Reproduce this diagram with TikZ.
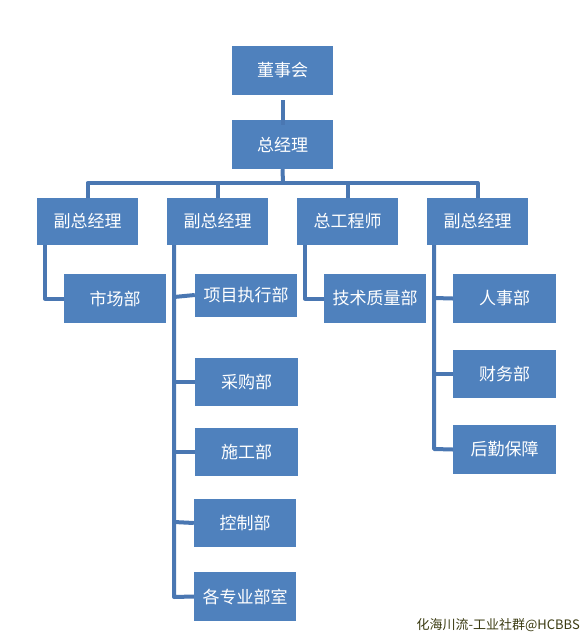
\documentclass[tikz,border=0pt]{standalone}
\usepackage{fontspec}
\setmainfont{Noto Sans CJK SC}
\newfontfamily\cjk{Noto Sans CJK SC}
\definecolor{boxblue}{HTML}{4F81BD}
\definecolor{lineblue}{HTML}{4A77B2}
\definecolor{wmark}{HTML}{3A3A10}
\begin{document}
\begin{tikzpicture}[x=1pt,y=-1pt,
  orgbox/.style={fill=boxblue, draw=none, text=white, font=\cjk\fontsize{17}{20}\selectfont, inner sep=0pt},
  link/.style={draw=lineblue, line width=4pt, line join=round}]
\useasboundingbox (0,0) rectangle (587,640);
% boxes
\node[orgbox, minimum width=101pt, minimum height=49pt] (dsh) at (282.5,70.5) {董事会};
\node[orgbox, minimum width=101pt, minimum height=49pt] (zjl) at (282.5,144.5) {总经理};
\node[orgbox, minimum width=101pt, minimum height=47pt] (f1) at (87.5,221.5) {副总经理};
\node[orgbox, minimum width=101pt, minimum height=47pt] (f2) at (217.5,221.5) {副总经理};
\node[orgbox, minimum width=101pt, minimum height=47pt] (zg) at (347.5,221.5) {总工程师};
\node[orgbox, minimum width=101pt, minimum height=47pt] (f4) at (477.5,221.5) {副总经理};
\node[orgbox, minimum width=102pt, minimum height=49pt] (scb) at (115,298.5) {市场部};
\node[orgbox, minimum width=102pt, minimum height=43pt] (xm) at (246,295) {项目执行部};
\node[orgbox, minimum width=103pt, minimum height=48pt] (cg) at (246.5,382) {采购部};
\node[orgbox, minimum width=103pt, minimum height=48pt] (sg) at (246.5,452) {施工部};
\node[orgbox, minimum width=102pt, minimum height=48pt] (kz) at (245,523) {控制部};
\node[orgbox, minimum width=102pt, minimum height=49pt] (gz) at (245,596.5) {各专业部室};
\node[orgbox, minimum width=102pt, minimum height=49pt] (js) at (375,298.5) {技术质量部};
\node[orgbox, minimum width=103pt, minimum height=49pt] (rs) at (504.5,298.5) {人事部};
\node[orgbox, minimum width=103pt, minimum height=48pt] (cw) at (504.5,374) {财务部};
\node[orgbox, minimum width=103pt, minimum height=49pt] (hq) at (504.5,449.5) {后勤保障};
% connectors
\coordinate (bus) at (283,183);
\draw[link] (dsh.south) ++(0,5) -- ([yshift=-5pt]zjl.north);
\draw[link] (zjl.south) -- (bus);
\draw[link] (f1.north) -- (f1.north |- bus) -- (f4.north |- bus) -- (f4.north);
\draw[link] (f2.north |- bus) -- (f2.north);
\draw[link] (zg.north |- bus) -- (zg.north);
% left group
\draw[link] (45,245) |- (scb.west);
% middle group
\draw[link] (174,245) -- (174,597) -- (gz.west);
\draw[link] (174,297) -- (xm.west);
\draw[link] (174,382) -- (cg.west);
\draw[link] (174,452) -- (sg.west);
\draw[link] (174,522) -- (kz.west);
% tech
\draw[link] (305,245) |- (js.west);
% right group
\draw[link] (434,245) -- (434,449) -- (hq.west);
\draw[link] (434,298) -- (rs.west);
\draw[link] (434,374) -- (cw.west);
% watermark
\node[text=wmark, font=\cjk\fontsize{13}{15}\selectfont, anchor=east, inner sep=0pt] (wm) at (580,625) {化海川流-工业社群@HCBBS};
\end{tikzpicture}
\end{document}
